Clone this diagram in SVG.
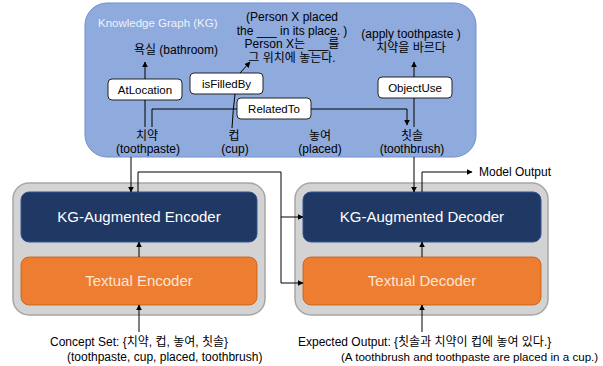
<svg xmlns="http://www.w3.org/2000/svg" width="603" height="366" viewBox="0 0 603 366">
<defs>
<marker id="ah" viewBox="0 0 10 10" refX="9" refY="5" markerWidth="6" markerHeight="6" orient="auto-start-reverse" markerUnits="userSpaceOnUse"><path d="M0,0 L10,5 L0,10 z" fill="#000"/></marker>
<style>
text{font-family:"Liberation Sans","Noto Sans CJK KR",sans-serif;fill:#000}
.t{font-size:12px}
.lbl{font-size:11.5px;text-anchor:middle}
.mid{text-anchor:middle}
.lb{fill:#fff;stroke:#222;stroke-width:1}
.dark{fill:#203864;stroke:#2f5597;stroke-width:1}
.org{fill:#ed7d31;stroke:#c55a11;stroke-width:0.8}
.gray{fill:#d3d3d3;stroke:#a6a6a6;stroke-width:1.5}
.big{font-size:15px;text-anchor:middle;fill:#fff}
.big2{font-size:15px;text-anchor:middle;fill:#fbe5d6}
.ln{fill:none;stroke:#000;stroke-width:1}
</style>
</defs>
<g id="kg">
<rect x="85" y="3" width="391" height="154" rx="22" fill="#8faadc" stroke="#6f8fcf" stroke-width="1"/>
<text x="98" y="27" font-size="11.5" style="fill:#eef2fa">Knowledge Graph (KG)</text>
</g>
<g id="kg-texts">
<text class="t mid" x="176" y="54">욕실 (bathroom)</text>
<text class="t mid" x="292" y="21">(Person X placed</text>
<text class="t mid" x="292" y="35">the ___ in its place. )</text>
<text class="t mid" x="292" y="48">Person X는 ___를</text>
<text class="t mid" x="292" y="62">그 위치에 놓는다.</text>
<text class="t mid" x="411" y="38">(apply toothpaste )</text>
<text class="t mid" x="411" y="52">치약을 바르다</text>
<text class="t mid" x="147" y="140">치약</text>
<text class="t mid" x="148" y="153">(toothpaste)</text>
<text class="t mid" x="234" y="140">컵</text>
<text class="t mid" x="235" y="153">(cup)</text>
<text class="t mid" x="320" y="140">놓여</text>
<text class="t mid" x="320" y="153">(placed)</text>
<text class="t mid" x="412" y="140">칫솔</text>
<text class="t mid" x="412" y="153">(toothbrush)</text>
</g>
<g id="atlocation"><rect class="lb" x="108" y="79" width="74" height="21" rx="4"/><text class="lbl" x="145" y="94">AtLocation</text></g>
<g id="isfilledby"><rect class="lb" x="190" y="73" width="73" height="21" rx="4"/><text class="lbl" x="226.5" y="88">isFilledBy</text></g>
<g id="relatedto"><rect class="lb" x="237" y="98" width="74" height="21" rx="4"/><text class="lbl" x="274" y="113">RelatedTo</text></g>
<g id="objectuse"><rect class="lb" x="378" y="77" width="74" height="21" rx="4"/><text class="lbl" x="415" y="92">ObjectUse</text></g>
<g id="encoder">
<rect class="gray" x="13" y="183" width="252" height="132" rx="16"/>
<rect class="dark" x="21" y="192" width="236" height="50" rx="8"/>
<text class="big" x="139" y="222">KG-Augmented Encoder</text>
<rect class="org" x="21" y="257" width="236" height="48" rx="8"/>
<text class="big2" x="139" y="286">Textual Encoder</text>
</g>
<g id="decoder">
<rect class="gray" x="295" y="183" width="253" height="132" rx="16"/>
<rect class="dark" x="303" y="192" width="238" height="50" rx="8"/>
<text class="big" x="422" y="222">KG-Augmented Decoder</text>
<rect class="org" x="303" y="257" width="238" height="48" rx="8"/>
<text class="big2" x="422" y="286">Textual Decoder</text>
</g>
<g id="connectors">
<path class="ln" d="M145,127 V100"/>
<path class="ln" d="M145,79 V62" marker-end="url(#ah)"/>
<path class="ln" d="M232,128 Q233,110 235,94"/>
<path class="ln" d="M240,73 L250,62" marker-end="url(#ah)"/>
<path class="ln" d="M152,127 V109 H237"/>
<path class="ln" d="M311,109 H407 V125" marker-end="url(#ah)"/>
<path class="ln" d="M414,127 V98"/>
<path class="ln" d="M414,77 V62" marker-end="url(#ah)"/>
<path class="ln" d="M131,157 V192" marker-end="url(#ah)"/>
<path class="ln" d="M138,192 V172 H281 V217 H303" marker-end="url(#ah)"/>
<path class="ln" d="M281,217 V283 H303" marker-end="url(#ah)"/>
<path class="ln" d="M414,157 V192" marker-end="url(#ah)"/>
<path class="ln" d="M422,192 V172 H472" marker-end="url(#ah)"/>
<path class="ln" d="M139,257 V242" marker-end="url(#ah)"/>
<path class="ln" d="M422,257 V242" marker-end="url(#ah)"/>
<path class="ln" d="M139,332 V305" marker-end="url(#ah)"/>
<path class="ln" d="M422,332 V305" marker-end="url(#ah)"/>
</g>
<g id="labels">
<text class="t" x="479" y="176">Model Output</text>
<text class="t" x="50" y="346">Concept Set: {치약, 컵, 놓여, 칫솔}</text>
<text class="t" x="67" y="361">(toothpaste, cup, placed, toothbrush)</text>
<text class="t" x="298" y="346">Expected Output: {칫솔과 치약이 컵에 놓여 있다.}</text>
<text x="341" y="361" font-size="11.6">(A toothbrush and toothpaste are placed in a cup.)</text>
</g>
</svg>
